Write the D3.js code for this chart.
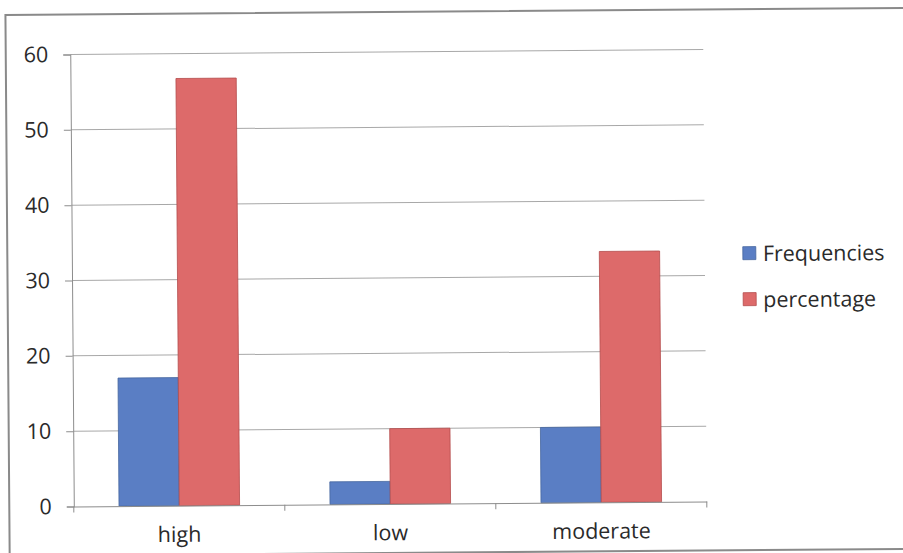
<!DOCTYPE html>
<html>
<head>
<meta charset="utf-8">
<script src="https://cdn.jsdelivr.net/npm/d3@7"></script>
<style>
  html, body { margin: 0; padding: 0; background: #fff; }
  svg { display: block; }
</style>
</head>
<body>
<svg id="chart" width="903" height="553"></svg>
<script>
// Chart data
const categories = ["high", "low", "moderate"];
const seriesNames = ["Frequencies", "percentage"];
const frequencies = [17, 3, 10];
const percentages = [56.7, 10, 33.3];
const yTicks = [0, 10, 20, 30, 40, 50, 60];

const colors = { Frequencies: "#5a7ec4", percentage: "#dd6a6a" };
const strokes = { Frequencies: "#46679f", percentage: "#b44c4c" };

const svg = d3.select("#chart");
const font = "'Open Sans', 'Noto Sans', sans-serif";
const fontSize = 21.5;

// whole chart slightly tilted, as on the printed page
const g = svg.append("g").attr("transform", "rotate(-0.45 451 276)");

// chart frame
g.append("rect")
  .attr("x", 7.5).attr("y", 11.5)
  .attr("width", 920).attr("height", 541)
  .attr("fill", "none").attr("stroke", "#8a8a8a").attr("stroke-width", 2);

const plot = { left: 72, right: 705, top: 51.5, bottom: 503.5 };

const x0 = d3.scaleBand().domain(categories).range([plot.left, plot.right]).paddingInner(0).paddingOuter(0);
const groupW = x0.bandwidth() * 2 / 3.5; // gap width 150%
const x1 = d3.scaleBand().domain(seriesNames).range([0, groupW]);
const y = d3.scaleLinear().domain([0, 60]).range([plot.bottom, plot.top]);

// gridlines
g.append("g").selectAll("line").data(yTicks.filter(d => d > 0)).join("line")
  .attr("x1", plot.left).attr("x2", plot.right)
  .attr("y1", d => y(d)).attr("y2", d => y(d))
  .attr("stroke", "#a8a8a8").attr("stroke-width", 1);

// y axis
const yAxis = g.append("g").attr("transform", `translate(${plot.left},0)`)
  .call(d3.axisLeft(y).tickValues(yTicks).tickSize(7).tickPadding(15).tickFormat(d3.format("d")));
yAxis.select(".domain").attr("stroke", "#8c8c8c");
yAxis.selectAll(".tick line").attr("stroke", "#8c8c8c");
yAxis.selectAll("text").attr("font-family", font).attr("font-size", fontSize).attr("fill", "#2a2a2a");

// bars
const data = categories.map((c, i) => ({ cat: c, values: [
  { key: "Frequencies", value: frequencies[i] },
  { key: "percentage", value: percentages[i] }
]}));

const groups = g.append("g").selectAll("g").data(data).join("g")
  .attr("transform", d => `translate(${x0(d.cat) + (x0.bandwidth() - groupW) / 2},0)`);
groups.selectAll("rect").data(d => d.values).join("rect")
  .attr("x", d => x1(d.key))
  .attr("width", x1.bandwidth())
  .attr("y", d => y(d.value))
  .attr("height", d => y(0) - y(d.value))
  .attr("fill", d => colors[d.key])
  .attr("stroke", d => strokes[d.key]).attr("stroke-width", 0.8);

// x axis
const xAxis = g.append("g").attr("transform", `translate(0,${plot.bottom})`)
  .call(d3.axisBottom(x0).tickSize(0).tickPadding(21));
xAxis.select(".domain").attr("stroke", "#8c8c8c");
xAxis.selectAll("text").attr("font-family", font).attr("font-size", fontSize).attr("fill", "#2a2a2a");
// category separators
g.append("g").selectAll("line").data(d3.range(categories.length + 1)).join("line")
  .attr("x1", i => plot.left + i * x0.step()).attr("x2", i => plot.left + i * x0.step())
  .attr("y1", plot.bottom).attr("y2", plot.bottom + 6)
  .attr("stroke", "#8c8c8c");

// legend
const legend = g.append("g").attr("transform", "translate(743,249)");
const li = legend.selectAll("g").data(seriesNames).join("g")
  .attr("transform", (d, i) => `translate(0,${i * 46})`);
li.append("rect").attr("width", 13).attr("height", 13)
  .attr("fill", d => colors[d]).attr("stroke", d => strokes[d]).attr("stroke-width", 0.8);
li.append("text").attr("x", 20).attr("y", 7).attr("dy", "0.35em")
  .attr("font-family", font).attr("font-size", fontSize).attr("fill", "#2a2a2a")
  .text(d => d);
</script>
</body>
</html>
